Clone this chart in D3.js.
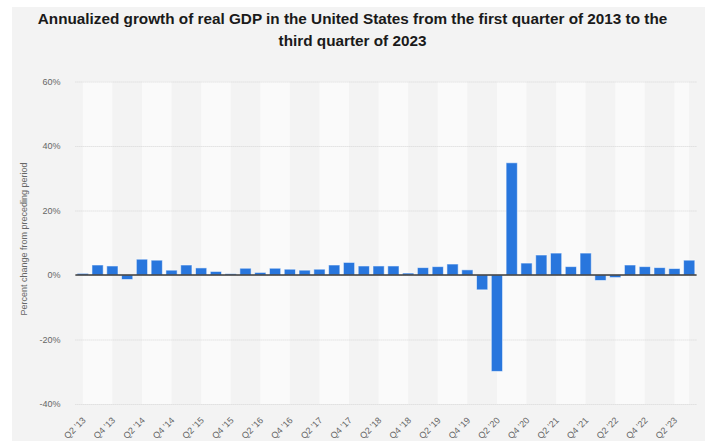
<!DOCTYPE html>
<html>
<head>
<meta charset="utf-8">
<script src="https://cdn.jsdelivr.net/npm/d3@7"></script>
<style>
  html, body { margin: 0; padding: 0; background: #ffffff; }
  svg { display: block; font-family: "Liberation Sans", Arial, sans-serif; }
</style>
</head>
<body>
<svg id="chart" width="705" height="441"></svg>
<script>
// Quarterly categories, Q2 2013 through Q3 2023
const quarters = [
  "Q2 '13","Q3 '13","Q4 '13",
  "Q1 '14","Q2 '14","Q3 '14","Q4 '14",
  "Q1 '15","Q2 '15","Q3 '15","Q4 '15",
  "Q1 '16","Q2 '16","Q3 '16","Q4 '16",
  "Q1 '17","Q2 '17","Q3 '17","Q4 '17",
  "Q1 '18","Q2 '18","Q3 '18","Q4 '18",
  "Q1 '19","Q2 '19","Q3 '19","Q4 '19",
  "Q1 '20","Q2 '20","Q3 '20","Q4 '20",
  "Q1 '21","Q2 '21","Q3 '21","Q4 '21",
  "Q1 '22","Q2 '22","Q3 '22","Q4 '22",
  "Q1 '23","Q2 '23","Q3 '23"
];

// Annualized real GDP growth, percent change from preceding period
const growth = [
  0.5, 3.1, 2.8,
  -1.4, 4.9, 4.6, 1.5,
  3.1, 2.2, 1.1, 0.4,
  2.1, 0.8, 2.1, 1.8,
  1.5, 1.8, 3.1, 3.9,
  2.8, 2.8, 2.8, 0.6,
  2.3, 2.6, 3.4, 1.6,
  -4.6, -29.9, 34.8, 3.7,
  6.2, 6.8, 2.6, 6.8,
  -1.7, -0.8, 3.1, 2.6,
  2.3, 2.0, 4.6
];

// Axis ticks
const yTicks = [-40, -20, 0, 20, 40, 60];
const xTickLabels = quarters.filter((q, i) => i % 2 === 0);

const titleLines = [
  "Annualized growth of real GDP in the United States from the first quarter of 2013 to the",
  "third quarter of 2023"
];
const yAxisTitle = "Percent change from preceding period";

const svg = d3.select("#chart");
const W = 705, H = 441;
const plot = { left: 75.4, right: 696.6, top: 81.5, bottom: 404 };

// Panel background
svg.append("rect")
  .attr("x", 12).attr("y", 7)
  .attr("width", W - 12).attr("height", H - 7)
  .attr("fill", "#f3f3f3");

const x = d3.scaleBand()
  .domain(quarters)
  .range([plot.left, plot.right])
  .paddingInner(0.24)
  .paddingOuter(0.12);

const step = x.step();
const cx = q => x(q) + x.bandwidth() / 2;

const y = d3.scaleLinear()
  .domain([-40, 60])
  .range([plot.bottom, plot.top]);

// Alternating light bands, two quarters wide, every fourth quarter
const bandStarts = quarters.filter((q, i) => i % 4 === 0);
const lastCenter = cx(quarters[quarters.length - 1]);
svg.append("g")
  .selectAll("rect")
  .data(bandStarts)
  .join("rect")
  .attr("x", d => cx(d))
  .attr("y", plot.top)
  .attr("width", d => Math.min(cx(d) + 2 * step, lastCenter) - cx(d))
  .attr("height", plot.bottom - plot.top)
  .attr("fill", "#fafafa");

// Dotted horizontal grid
const grid = svg.append("g")
  .attr("transform", `translate(${plot.left},0)`)
  .call(d3.axisLeft(y).tickValues(yTicks).tickSize(-(plot.right - plot.left)).tickFormat(""));
grid.select(".domain").remove();
grid.selectAll("line")
  .attr("stroke", "#d6d6d6")
  .attr("stroke-width", 1)
  .attr("stroke-dasharray", "1,1");

// Y tick labels
const yAxis = svg.append("g")
  .attr("transform", `translate(${plot.left},0)`)
  .call(d3.axisLeft(y).tickValues(yTicks).tickSize(0).tickPadding(15).tickFormat(d => d + "%"));
yAxis.select(".domain").remove();
yAxis.selectAll("text")
  .attr("font-size", 9)
  .attr("font-family", "'Liberation Sans', Arial, sans-serif")
  .attr("fill", "#666666");

// Bars
svg.append("g")
  .selectAll("rect")
  .data(quarters.map((q, i) => ({ q, v: growth[i] })))
  .join("rect")
  .attr("x", d => x(d.q))
  .attr("width", x.bandwidth())
  .attr("y", d => y(Math.max(0, d.v)))
  .attr("height", d => Math.abs(y(d.v) - y(0)))
  .attr("fill", "#2876dd")
  .attr("stroke", "rgba(255,255,255,0.55)")
  .attr("stroke-width", 1);

// Zero baseline
svg.append("line")
  .attr("x1", plot.left).attr("x2", plot.right)
  .attr("y1", y(0)).attr("y2", y(0))
  .attr("stroke", "#3a3a3a")
  .attr("stroke-width", 1.5);

// X axis labels, rotated
const xAxis = svg.append("g")
  .attr("transform", `translate(0,${plot.bottom})`)
  .call(d3.axisBottom(x).tickValues(xTickLabels).tickSize(0));
xAxis.select(".domain").remove();
xAxis.selectAll("text")
  .attr("font-size", 9)
  .attr("font-family", "'Liberation Sans', Arial, sans-serif")
  .attr("fill", "#666666")
  .attr("x", 3.5)
  .attr("y", 17)
  .attr("dy", 0)
  .attr("text-anchor", "end")
  .attr("transform", "rotate(-45,3.5,17)");

// Y axis title
svg.append("text")
  .attr("transform", "translate(27,239) rotate(-90)")
  .attr("text-anchor", "middle")
  .attr("font-size", 9)
  .attr("fill", "#666666")
  .text(yAxisTitle);

// Title
svg.append("g")
  .selectAll("text")
  .data(titleLines)
  .join("text")
  .attr("x", 352.5)
  .attr("y", (d, i) => 24 + i * 22)
  .attr("text-anchor", "middle")
  .attr("font-size", 15.3)
  .attr("font-weight", "bold")
  .attr("fill", "#1a1a1a")
  .text(d => d);
</script>
</body>
</html>
